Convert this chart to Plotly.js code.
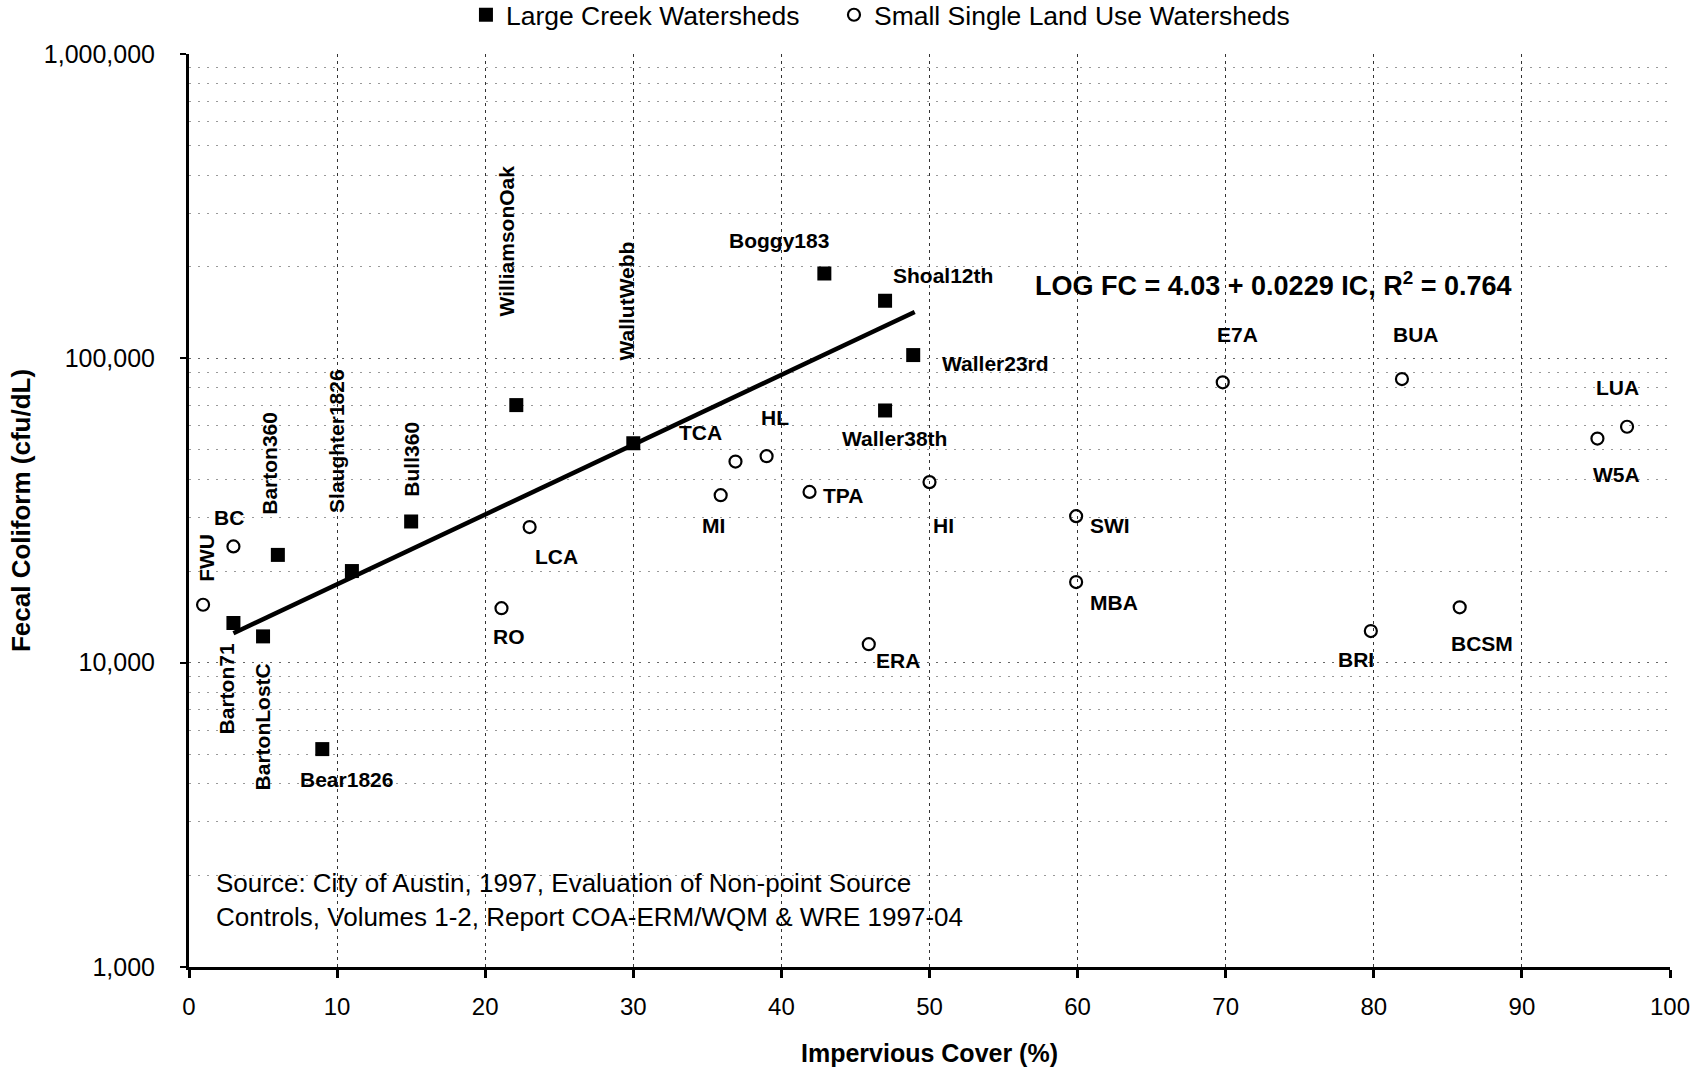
<!DOCTYPE html>
<html><head><meta charset="utf-8">
<script src="https://cdn.plot.ly/plotly-3.0.1.min.js"></script>
<style>html,body{margin:0;padding:0;background:#fff}#c{width:1704px;height:1070px}</style>
</head><body><div id="c"></div>
<script>
// Large Creek Watersheds
const largeNames = ["Barton71","BartonLostC","Barton360","Bear1826","Slaughter1826","Bull360","WilliamsonOak","WallutWebb","Boggy183","Shoal12th","Waller23rd","Waller38th"];
const largeIC = [3.0, 5.0, 6.0, 9.0, 11.0, 15.0, 22.1, 30.0, 42.9, 47.0, 48.9, 47.0];
const largeFC = [13500, 12200, 22600, 5200, 20000, 29100, 70200, 52600, 190000, 154600, 102500, 67400];
// Small Single Land Use Watersheds
const smallNames = ["FWU","BC","RO","LCA","MI","TCA","HL","TPA","ERA","HI","SWI","MBA","E7A","BUA","BRI","BCSM","W5A","LUA"];
const smallIC = [0.95, 3.0, 21.1, 23.0, 35.9, 36.9, 39.0, 41.9, 45.9, 50.0, 59.9, 59.9, 69.8, 81.9, 79.8, 85.8, 95.1, 97.1];
const smallFC = [15500, 24100, 15100, 27900, 35500, 45800, 47700, 36400, 11500, 39200, 30300, 18400, 83400, 85500, 12700, 15200, 54500, 59600];
// Regression line end points
const trendIC = [3, 49];
const trendFC = [12500, 142000];
// Axis ticks
const yTickVals = [1000, 10000, 100000, 1000000];
const yTickText = ["1,000", "10,000", "100,000", "1,000,000"];
const xTickVals = [0,10,20,30,40,50,60,70,80,90,100];

// label placement: [dx px, dy px (down), rotation]
const labelPlace = {
  Barton71:[-7,66,-90], BartonLostC:[-1,91,-90], Barton360:[-8,-92,-90], Bear1826:[24,30,0],
  Slaughter1826:[-16,-130,-90], Bull360:[0,-62,-90], WilliamsonOak:[-10,-164,-90], WallutWebb:[-7,-142,-90],
  Boggy183:[-45,-33,0], Shoal12th:[58,-25,0], Waller23rd:[82,8,0], Waller38th:[9,28,0],
  FWU:[4,-47,-90], BC:[-4,-29,0], RO:[8,28,0], LCA:[27,29,0], MI:[-7,30,0], TCA:[-35,-29,0],
  HL:[8,-39,0], TPA:[33,4,0], ERA:[29,16,0], HI:[14,43,0], SWI:[34,9,0], MBA:[38,20,0],
  E7A:[15,-48,0], BUA:[14,-45,0], BRI:[-15,28,0], BCSM:[22,36,0], W5A:[19,36,0], LUA:[-10,-39,0]
};

const F = "Liberation Sans, Arial, sans-serif";
const annotations = [];
function addLabels(names, xs, ys){
  names.forEach((n,i)=>{
    const p = labelPlace[n];
    annotations.push({x: xs[i], y: Math.log10(ys[i]), xref:'x', yref:'y', text: n, showarrow:false,
      xanchor:'center', yanchor:'middle',
      xshift: p[0], yshift: -p[1], textangle: p[2], font:{family:F, size:21, color:'#000', weight:'bold'}});
  });
}
addLabels(largeNames, largeIC, largeFC);
addLabels(smallNames, smallIC, smallFC);
annotations.push({xref:'paper', yref:'paper', x:0.732, y:0.748, xanchor:'center', yanchor:'middle', showarrow:false,
  text:'LOG FC = 4.03 + 0.0229 IC, R<sup>2</sup> = 0.764', font:{family:F, size:27, color:'#000', weight:'bold'}});
annotations.push({xref:'paper', yref:'paper', x:0.0169, y:0.0734, xanchor:'left', yanchor:'middle', align:'left', showarrow:false,
  text:'Source: City of Austin, 1997, Evaluation of Non-point Source<br>Controls, Volumes 1-2, Report COA-ERM/WQM &amp; WRE 1997-04',
  font:{family:F, size:26, color:'#000'}});

const traces = [
  {x: largeIC, y: largeFC, type:'scatter', mode:'markers', name:'Large Creek Watersheds', legend:'legend',
   marker:{symbol:'square', size:14, color:'#000'}},
  {x: smallIC, y: smallFC, type:'scatter', mode:'markers', name:'Small Single Land Use Watersheds', legend:'legend2',
   marker:{symbol:'circle-open', size:12, color:'#000', line:{width:2.2, color:'#000'}}},
  {x: trendIC, y: trendFC, type:'scatter', mode:'lines', showlegend:false, line:{color:'#000', width:4.5}}
];

const legFont = {family:F, size:26.5, color:'#000'};
const layout = {
  width:1704, height:1070, paper_bgcolor:'#fff', plot_bgcolor:'#fff',
  margin:{l:189, r:34, t:54, b:103, autoexpand:false},
  font:{family:F, color:'#000'},
  showlegend:true,
  legend:{orientation:'h', x:0.187, y:1.0427, xanchor:'left', yanchor:'middle',
    font:legFont, bgcolor:'rgba(0,0,0,0)'},
  legend2:{orientation:'h', x:0.4355, y:1.0427, xanchor:'left', yanchor:'middle',
    font:legFont, bgcolor:'rgba(0,0,0,0)'},
  xaxis:{range:[0,100], tickvals:xTickVals, ticks:'outside', ticklen:8, tickwidth:3, tickcolor:'#000',
    showline:true, linewidth:3, linecolor:'#000', zeroline:false,
    showgrid:true, gridcolor:'#333', griddash:'3px,4px', gridwidth:1,
    tickfont:{family:F, size:24, color:'#000'}, ticklabelstandoff:8,
    title:{text:'Impervious Cover (%)', font:{family:F, size:25, color:'#000', weight:'bold'}, standoff:26}},
  yaxis:{type:'log', range:[3,6], tickvals:yTickVals, ticktext:yTickText, ticks:'outside', ticklen:6, tickwidth:2, tickcolor:'#000',
    showline:true, linewidth:3, linecolor:'#000', zeroline:false,
    showgrid:true, gridcolor:'#666', griddash:'2px,7px', gridwidth:1,
    minor:{dtick:'D1', showgrid:true, gridcolor:'#999', griddash:'2px,7px', gridwidth:1, ticks:''},
    tickfont:{family:F, size:25, color:'#000'}, ticklabelstandoff:20,
    title:{text:'Fecal Coliform (cfu/dL)', font:{family:F, size:26, color:'#000', weight:'bold'}, standoff:6}},
  annotations: annotations
};
Plotly.newPlot('c', traces, layout, {displayModeBar:false, staticPlot:true});
</script></body></html>
